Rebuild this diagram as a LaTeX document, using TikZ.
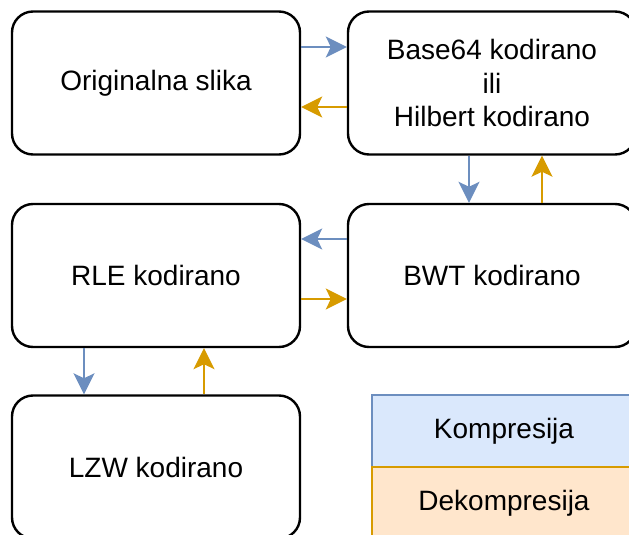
\documentclass[tikz,border=0pt]{standalone}
\usepackage{fontspec}
\setmainfont{Liberation Sans}
\usepackage{xcolor}
\usetikzlibrary{arrows.meta}
\definecolor{kompLine}{HTML}{6C8EBF}
\definecolor{kompFill}{HTML}{DAE8FC}
\definecolor{dekompLine}{HTML}{D79B00}
\definecolor{dekompFill}{HTML}{FFE6CC}
\tikzset{
box/.style = {rectangle, draw=black, rounded corners=21pt, line width=2.4pt,
              minimum width=288pt, minimum height=143pt, inner sep=0pt, align=center}
}
\tikzset{
legendBox/.style = {rectangle, draw=#1, line width=1.2pt,
                    minimum width=264pt, minimum height=72pt, inner sep=0pt}
}
\tikzset{
kompArrow/.style = {-{Stealth[length=21pt, width=21pt, inset=5pt]}, draw=kompLine, line width=2.2pt},
dekompArrow/.style = {-{Stealth[length=21pt, width=21pt, inset=5pt]}, draw=dekompLine, line width=2.2pt}
}

\begin{document}
\begin{tikzpicture}[x=1pt, y=-1pt, font=\fontsize{28}{33.6}\selectfont]

    \useasboundingbox (0,0) rectangle (629,535);
    \clip (0,0) rectangle (629,535);

    \node[box] (origBox) at (156,83) {Originalna slika};
    \node[box] (baseBox) at (492,83) {Base64 kodirano\\ili\\Hilbert kodirano};
    \node[box] (rleBox)  at (156,275.5) {RLE kodirano};
    \node[box] (bwtBox)  at (492,275.5) {BWT kodirano};
    \node[box] (lzwBox)  at (156,467) {LZW kodirano};

    \node[legendBox=kompLine, fill=kompFill] (kompBox) at (504,431) {Kompresija};
    \node[legendBox=dekompLine, fill=dekompFill] (dekompBox) at (504,503) {Dekompresija};

    % kompresija
    \draw[kompArrow] ([yshift=36pt]origBox.east) -- ([yshift=36pt]baseBox.west);
    \draw[kompArrow] ([xshift=-23pt]baseBox.south) -- ([xshift=-23pt]bwtBox.north);
    \draw[kompArrow] ([yshift=36.5pt]bwtBox.west) -- ([yshift=36.5pt]rleBox.east);
    \draw[kompArrow] ([xshift=-72pt]rleBox.south) -- ([xshift=-72pt]lzwBox.north);

    % dekompresija
    \draw[dekompArrow] ([xshift=48pt]lzwBox.north) -- ([xshift=48pt]rleBox.south);
    \draw[dekompArrow] ([yshift=-23.5pt]rleBox.east) -- ([yshift=-23.5pt]bwtBox.west);
    \draw[dekompArrow] ([xshift=50pt]bwtBox.north) -- ([xshift=50pt]baseBox.south);
    \draw[dekompArrow] ([yshift=-24pt]baseBox.west) -- ([yshift=-24pt]origBox.east);

  \end{tikzpicture}
\end{document}
